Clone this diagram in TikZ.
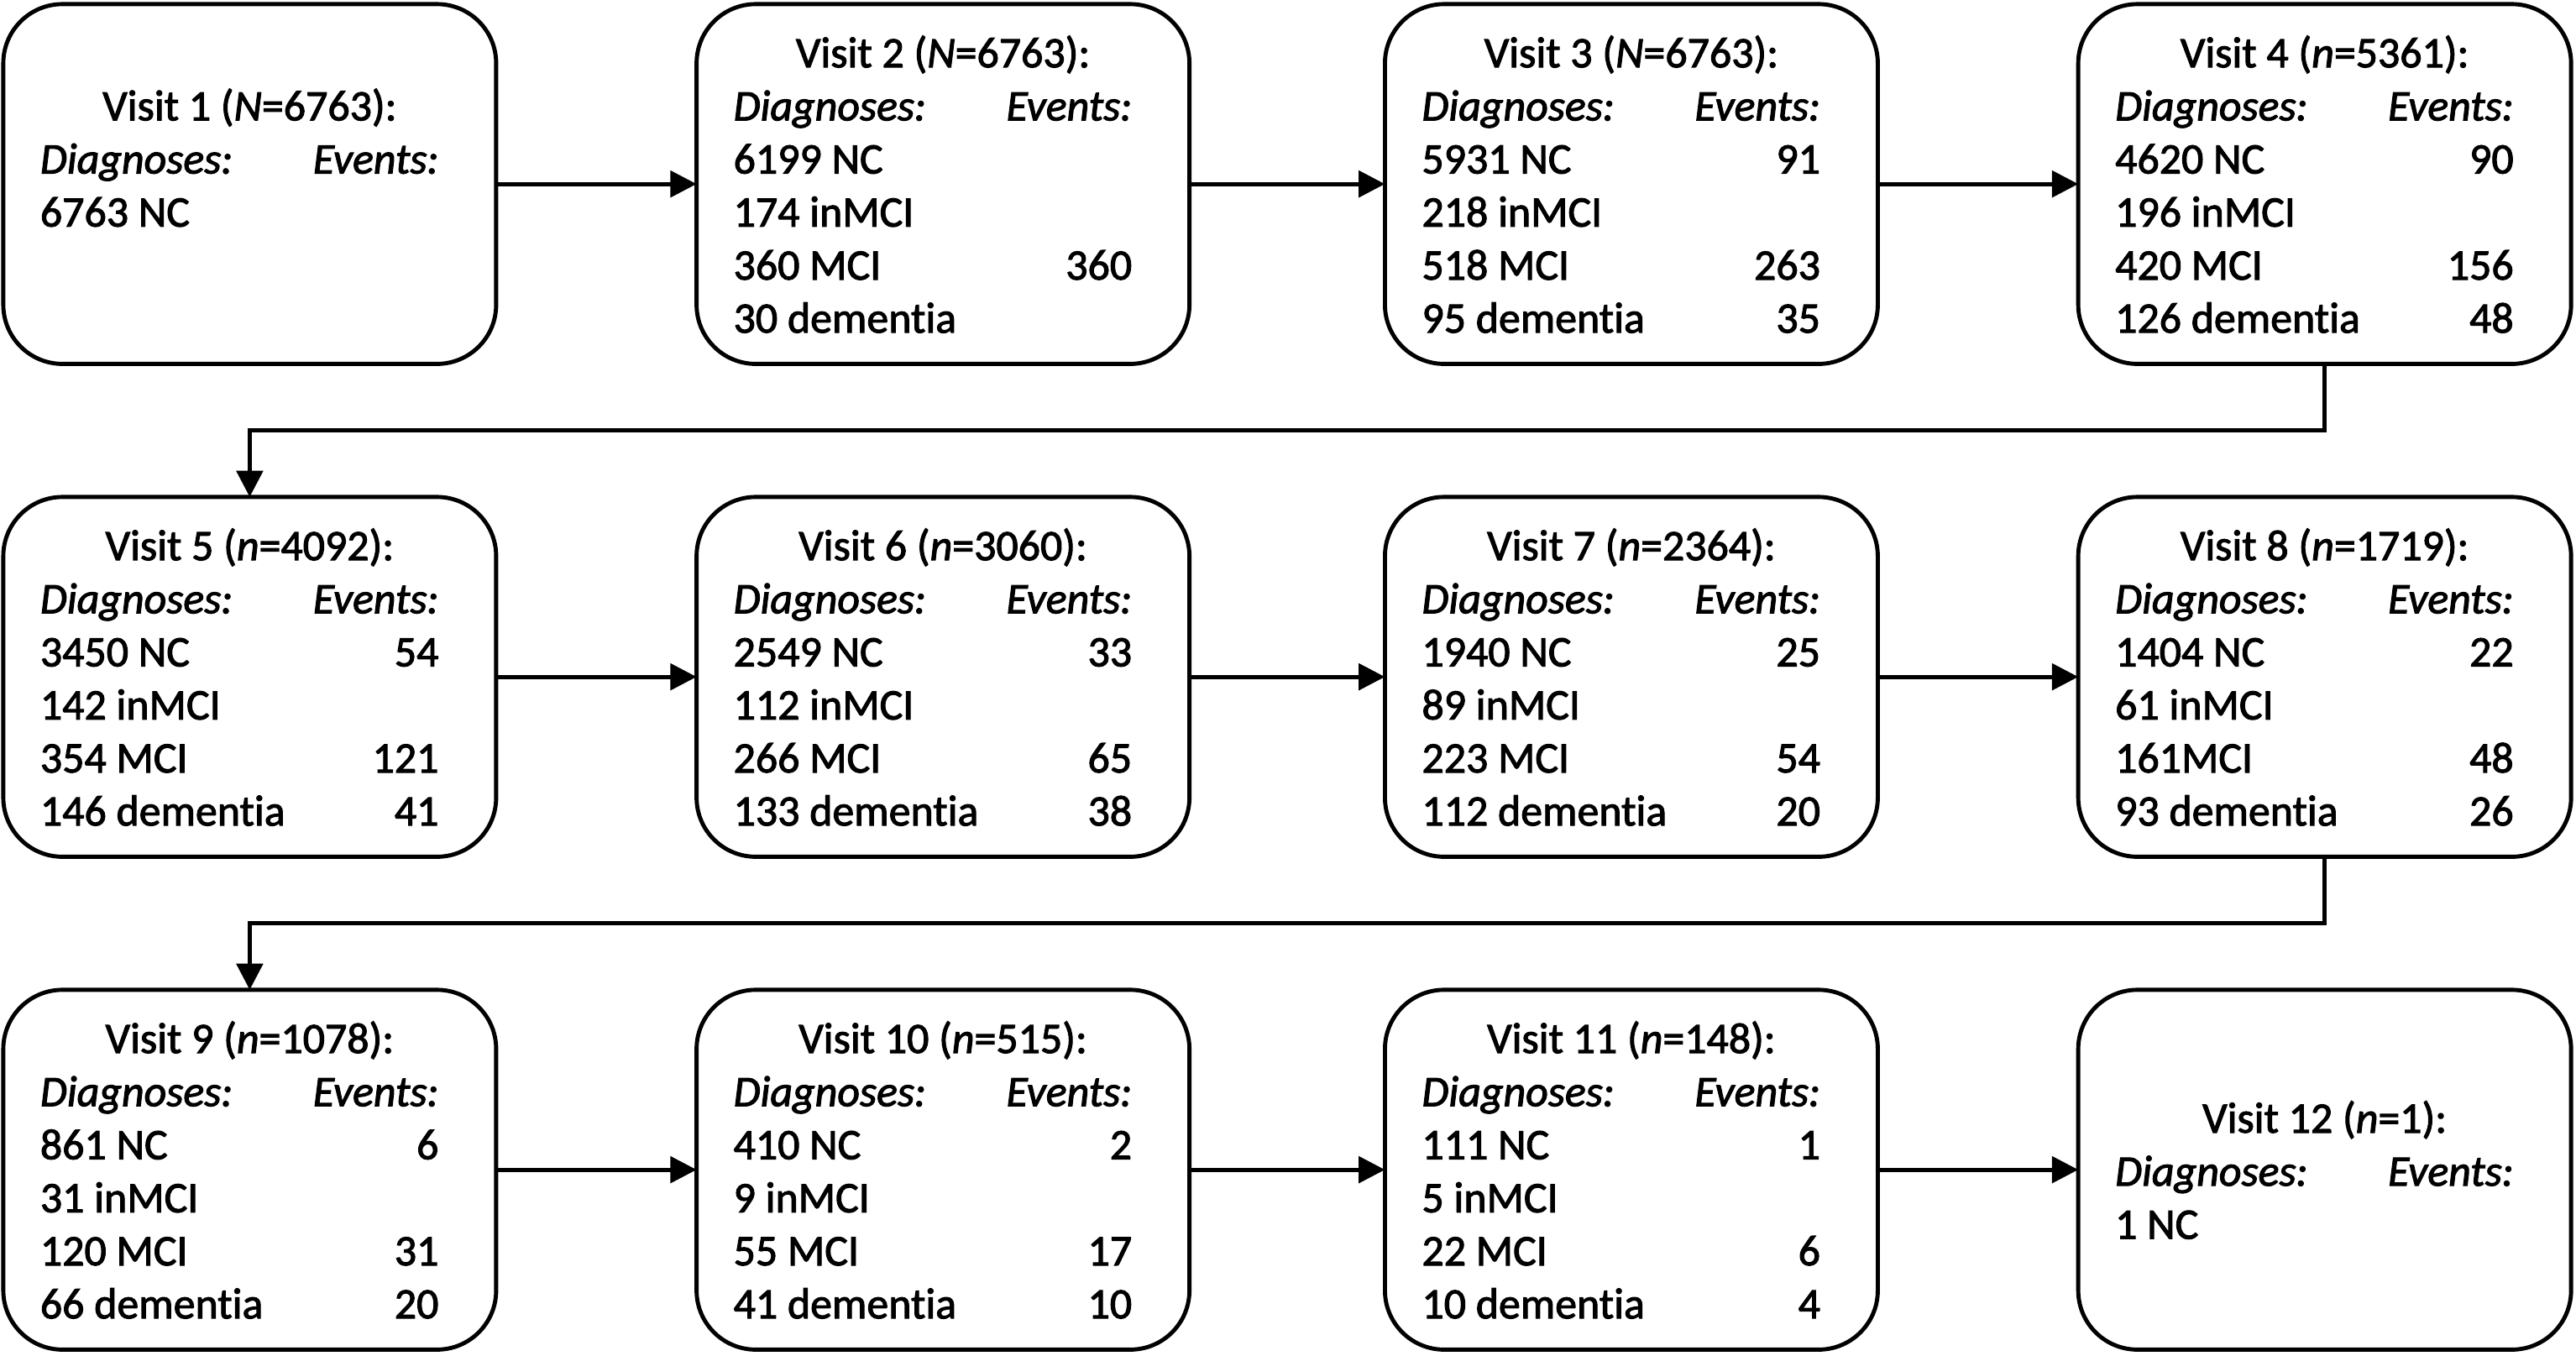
\documentclass[tikz,border=0pt]{standalone}
\usepackage{fontspec}
\setmainfont{Carlito}[Ligatures=NoCommon, FakeBold=2]
\usetikzlibrary{arrows.meta}
\newcommand\mkBox[3]{\node[box] (#1) at (#2,#3+109.5) {};}
\newcommand\mkT[5]{\node[txt,anchor=base] (#1) at (#2,#3+38.5+32.3*#4) {#5};}
\newcommand\mkL[5]{\node[txt,anchor=base west] (#1) at (#2-127.5,#3+38.5+32.3*#4) {#5};}
\newcommand\mkR[5]{\node[txt,anchor=base east] (#1) at (#2+115,#3+38.5+32.3*#4) {#5};}
\begin{document}
\begin{tikzpicture}[x=1pt,y=-1pt,
  box/.style={draw=black, line width=2.5pt, rounded corners=36pt, minimum width=300pt, minimum height=219pt, inner sep=0pt, outer sep=0pt},
  txt/.style={inner sep=0pt, outer sep=0pt, text=black, font=\fontsize{26.5}{32}\selectfont},
  arr/.style={draw=black, line width=2.5pt, -{Triangle[length=16pt,width=16pt]}}]
\fill[white] (0,0) rectangle (1568,825);
\useasboundingbox (0,0) rectangle (1568,825);
% ---------- row 1 ----------
\mkBox{b1}{152}{2.5}
\mkT{b1t}{152}{2.5}{1}{Visit 1 (\textit{N}=6763):}
\mkL{b1d}{152}{2.5}{2}{\textit{Diagnoses:}}
\mkR{b1e}{152}{2.5}{2}{\textit{Events:}}
\mkL{b1a}{152}{2.5}{3}{6763 NC}

\mkBox{b2}{574}{2.5}
\mkT{b2t}{574}{2.5}{0}{Visit 2 (\textit{N}=6763):}
\mkL{b2d}{574}{2.5}{1}{\textit{Diagnoses:}}
\mkR{b2e}{574}{2.5}{1}{\textit{Events:}}
\mkL{b2a}{574}{2.5}{2}{6199 NC}
\mkL{b2b}{574}{2.5}{3}{174 inMCI}
\mkL{b2c}{574}{2.5}{4}{360 MCI}
\mkR{b2cr}{574}{2.5}{4}{360}
\mkL{b2x}{574}{2.5}{5}{30 dementia}

\mkBox{b3}{993}{2.5}
\mkT{b3t}{993}{2.5}{0}{Visit 3 (\textit{N}=6763):}
\mkL{b3d}{993}{2.5}{1}{\textit{Diagnoses:}}
\mkR{b3e}{993}{2.5}{1}{\textit{Events:}}
\mkL{b3a}{993}{2.5}{2}{5931 NC}
\mkR{b3ar}{993}{2.5}{2}{91}
\mkL{b3b}{993}{2.5}{3}{218 inMCI}
\mkL{b3c}{993}{2.5}{4}{518 MCI}
\mkR{b3cr}{993}{2.5}{4}{263}
\mkL{b3x}{993}{2.5}{5}{95 dementia}
\mkR{b3xr}{993}{2.5}{5}{35}

\mkBox{b4}{1415}{2.5}
\mkT{b4t}{1415}{2.5}{0}{Visit 4 (\textit{n}=5361):}
\mkL{b4d}{1415}{2.5}{1}{\textit{Diagnoses:}}
\mkR{b4e}{1415}{2.5}{1}{\textit{Events:}}
\mkL{b4a}{1415}{2.5}{2}{4620 NC}
\mkR{b4ar}{1415}{2.5}{2}{90}
\mkL{b4b}{1415}{2.5}{3}{196 inMCI}
\mkL{b4c}{1415}{2.5}{4}{420 MCI}
\mkR{b4cr}{1415}{2.5}{4}{156}
\mkL{b4x}{1415}{2.5}{5}{126 dementia}
\mkR{b4xr}{1415}{2.5}{5}{48}
% ---------- row 2 ----------
\mkBox{b5}{152}{302.5}
\mkT{b5t}{152}{302.5}{0}{Visit 5 (\textit{n}=4092):}
\mkL{b5d}{152}{302.5}{1}{\textit{Diagnoses:}}
\mkR{b5e}{152}{302.5}{1}{\textit{Events:}}
\mkL{b5a}{152}{302.5}{2}{3450 NC}
\mkR{b5ar}{152}{302.5}{2}{54}
\mkL{b5b}{152}{302.5}{3}{142 inMCI}
\mkL{b5c}{152}{302.5}{4}{354 MCI}
\mkR{b5cr}{152}{302.5}{4}{121}
\mkL{b5x}{152}{302.5}{5}{146 dementia}
\mkR{b5xr}{152}{302.5}{5}{41}

\mkBox{b6}{574}{302.5}
\mkT{b6t}{574}{302.5}{0}{Visit 6 (\textit{n}=3060):}
\mkL{b6d}{574}{302.5}{1}{\textit{Diagnoses:}}
\mkR{b6e}{574}{302.5}{1}{\textit{Events:}}
\mkL{b6a}{574}{302.5}{2}{2549 NC}
\mkR{b6ar}{574}{302.5}{2}{33}
\mkL{b6b}{574}{302.5}{3}{112 inMCI}
\mkL{b6c}{574}{302.5}{4}{266 MCI}
\mkR{b6cr}{574}{302.5}{4}{65}
\mkL{b6x}{574}{302.5}{5}{133 dementia}
\mkR{b6xr}{574}{302.5}{5}{38}

\mkBox{b7}{993}{302.5}
\mkT{b7t}{993}{302.5}{0}{Visit 7 (\textit{n}=2364):}
\mkL{b7d}{993}{302.5}{1}{\textit{Diagnoses:}}
\mkR{b7e}{993}{302.5}{1}{\textit{Events:}}
\mkL{b7a}{993}{302.5}{2}{1940 NC}
\mkR{b7ar}{993}{302.5}{2}{25}
\mkL{b7b}{993}{302.5}{3}{89 inMCI}
\mkL{b7c}{993}{302.5}{4}{223 MCI}
\mkR{b7cr}{993}{302.5}{4}{54}
\mkL{b7x}{993}{302.5}{5}{112 dementia}
\mkR{b7xr}{993}{302.5}{5}{20}

\mkBox{b8}{1415}{302.5}
\mkT{b8t}{1415}{302.5}{0}{Visit 8 (\textit{n}=1719):}
\mkL{b8d}{1415}{302.5}{1}{\textit{Diagnoses:}}
\mkR{b8e}{1415}{302.5}{1}{\textit{Events:}}
\mkL{b8a}{1415}{302.5}{2}{1404 NC}
\mkR{b8ar}{1415}{302.5}{2}{22}
\mkL{b8b}{1415}{302.5}{3}{61 inMCI}
\mkL{b8c}{1415}{302.5}{4}{161MCI}
\mkR{b8cr}{1415}{302.5}{4}{48}
\mkL{b8x}{1415}{302.5}{5}{93 dementia}
\mkR{b8xr}{1415}{302.5}{5}{26}
% ---------- row 3 ----------
\mkBox{b9}{152}{602.5}
\mkT{b9t}{152}{602.5}{0}{Visit 9 (\textit{n}=1078):}
\mkL{b9d}{152}{602.5}{1}{\textit{Diagnoses:}}
\mkR{b9e}{152}{602.5}{1}{\textit{Events:}}
\mkL{b9a}{152}{602.5}{2}{861 NC}
\mkR{b9ar}{152}{602.5}{2}{6}
\mkL{b9b}{152}{602.5}{3}{31 inMCI}
\mkL{b9c}{152}{602.5}{4}{120 MCI}
\mkR{b9cr}{152}{602.5}{4}{31}
\mkL{b9x}{152}{602.5}{5}{66 dementia}
\mkR{b9xr}{152}{602.5}{5}{20}

\mkBox{b10}{574}{602.5}
\mkT{b10t}{574}{602.5}{0}{Visit 10 (\textit{n}=515):}
\mkL{b10d}{574}{602.5}{1}{\textit{Diagnoses:}}
\mkR{b10e}{574}{602.5}{1}{\textit{Events:}}
\mkL{b10a}{574}{602.5}{2}{410 NC}
\mkR{b10ar}{574}{602.5}{2}{2}
\mkL{b10b}{574}{602.5}{3}{9 inMCI}
\mkL{b10c}{574}{602.5}{4}{55 MCI}
\mkR{b10cr}{574}{602.5}{4}{17}
\mkL{b10x}{574}{602.5}{5}{41 dementia}
\mkR{b10xr}{574}{602.5}{5}{10}

\mkBox{b11}{993}{602.5}
\mkT{b11t}{993}{602.5}{0}{Visit 11 (\textit{n}=148):}
\mkL{b11d}{993}{602.5}{1}{\textit{Diagnoses:}}
\mkR{b11e}{993}{602.5}{1}{\textit{Events:}}
\mkL{b11a}{993}{602.5}{2}{111 NC}
\mkR{b11ar}{993}{602.5}{2}{1}
\mkL{b11b}{993}{602.5}{3}{5 inMCI}
\mkL{b11c}{993}{602.5}{4}{22 MCI}
\mkR{b11cr}{993}{602.5}{4}{6}
\mkL{b11x}{993}{602.5}{5}{10 dementia}
\mkR{b11xr}{993}{602.5}{5}{4}

\mkBox{b12}{1415}{602.5}
\mkT{b12t}{1415}{602.5}{1.5}{Visit 12 (\textit{n}=1):}
\mkL{b12d}{1415}{602.5}{2.5}{\textit{Diagnoses:}}
\mkR{b12e}{1415}{602.5}{2.5}{\textit{Events:}}
\mkL{b12a}{1415}{602.5}{3.5}{1 NC}
% ---------- connectors ----------
\draw[arr] (b1.east) -- (b2.west);
\draw[arr] (b2.east) -- (b3.west);
\draw[arr] (b3.east) -- (b4.west);
\draw[arr] (b4.south) -- ++(0,40.5) -| (b5.north);
\draw[arr] (b5.east) -- (b6.west);
\draw[arr] (b6.east) -- (b7.west);
\draw[arr] (b7.east) -- (b8.west);
\draw[arr] (b8.south) -- ++(0,40.5) -| (b9.north);
\draw[arr] (b9.east) -- (b10.west);
\draw[arr] (b10.east) -- (b11.west);
\draw[arr] (b11.east) -- (b12.west);
\end{tikzpicture}
\end{document}
